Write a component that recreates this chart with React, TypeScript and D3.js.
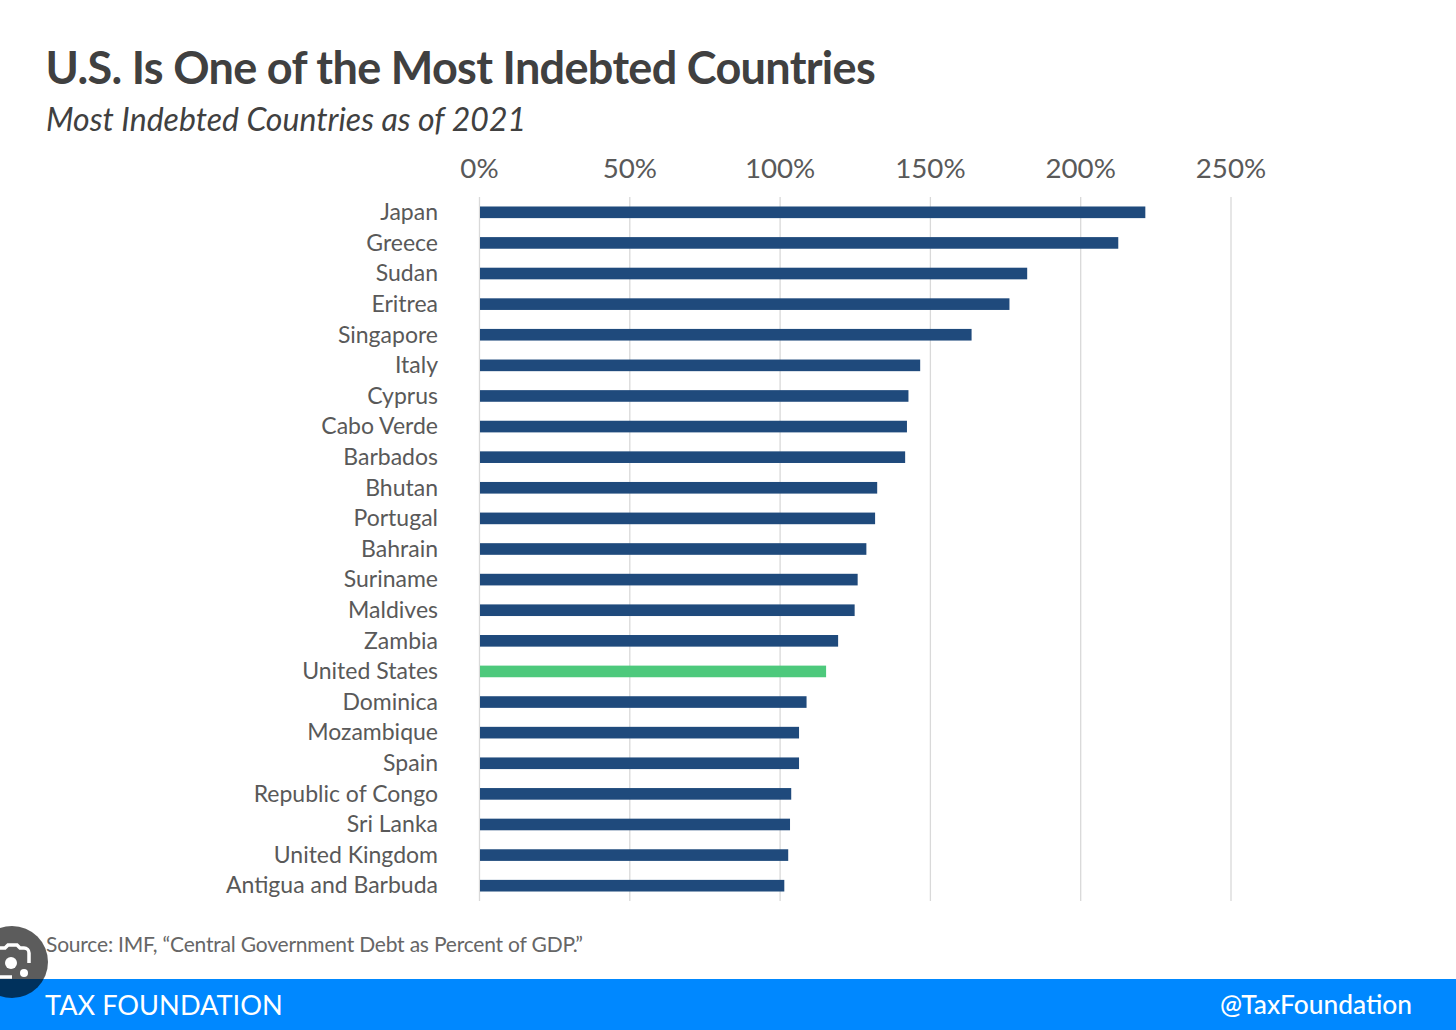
import * as d3 from 'd3';

const countries = ['Japan', 'Greece', 'Sudan', 'Eritrea', 'Singapore', 'Italy', 'Cyprus', 'Cabo Verde', 'Barbados', 'Bhutan', 'Portugal', 'Bahrain', 'Suriname', 'Maldives', 'Zambia', 'United States', 'Dominica', 'Mozambique', 'Spain', 'Republic of Congo', 'Sri Lanka', 'United Kingdom', 'Antigua and Barbuda'];
const debt = [221.5, 212.5, 182.2, 176.3, 163.7, 146.6, 142.7, 142.2, 141.6, 132.3, 131.6, 128.7, 125.8, 124.8, 119.3, 115.3, 108.8, 106.3, 106.3, 103.7, 103.3, 102.7, 101.4];
const ticks = [0, 50, 100, 150, 200, 250];
const usa = 'United States';

const font = 'Lato, "Open Sans", sans-serif';

export default function App() {
  const x = d3.scaleLinear().domain([0, 250]).range([479.5, 1231]);
  const y = d3.scaleBand().domain(countries).range([197, 901]).paddingInner(0.62).paddingOuter(0.31);

  return (
    <svg width={1456} height={1030} style={{ position: 'absolute', left: 0, top: 0, background: '#fff' }} fontFamily={font}>
      <text x={45.5} y={84} fontSize={45} fontWeight={700} fill="#404040" letterSpacing={-0.67}>U.S. Is One of the Most Indebted Countries</text>
      <text x={46} y={131} fontSize={32} fontStyle="italic" fill="#404040">Most Indebted Countries as of 2021</text>

      {ticks.map((t) => (
        <g key={t}>
          <line x1={x(t)} x2={x(t)} y1={197} y2={901} stroke="#d9d9d9" strokeWidth={1.3} />
          <text x={x(t)} y={177.5} fontSize={27.7} fill="#595959" textAnchor="middle">{t}%</text>
        </g>
      ))}

      {countries.map((c, i) => (
        <g key={c}>
          <rect x={x(0) + 0.5} y={y(c)} width={x(debt[i]) - x(0) - 0.5} height={y.bandwidth()} fill={c === usa ? '#4dc97c' : '#1f4a7c'} />
          <text x={438} y={(y(c) ?? 0) + y.bandwidth() / 2 + 7.8} fontSize={23} fill="#595959" textAnchor="end">{c}</text>
        </g>
      ))}

      <text x={46} y={952} fontSize={21} fill="#666" letterSpacing={-0.2}>Source: IMF, “Central Government Debt as Percent of GDP.”</text>

      <rect x={0} y={979} width={1456} height={51} fill="#0088ff" />
      <text x={45} y={1015} fontSize={27.2} fill="#fff">TAX FOUNDATION</text>
      <text x={1412} y={1014} fontSize={26.3} fontWeight={500} fill="#fff" textAnchor="end">@TaxFoundation</text>

      {/* screenshot button sitting on top of the chart */}
      <circle cx={12} cy={962} r={36} fill="#000" fillOpacity={0.64} />
      <path d="M-2 948 h7 l3 -3 h9 l3 3 h4 a5 5 0 0 1 5 5 v10 M12 977 h-14" fill="none" stroke="#fff" strokeWidth={3.5} />
      <circle cx={11} cy={963} r={6} fill="#fff" />
      <circle cx={24} cy={973} r={4} fill="#fff" />
    </svg>
  );
}
